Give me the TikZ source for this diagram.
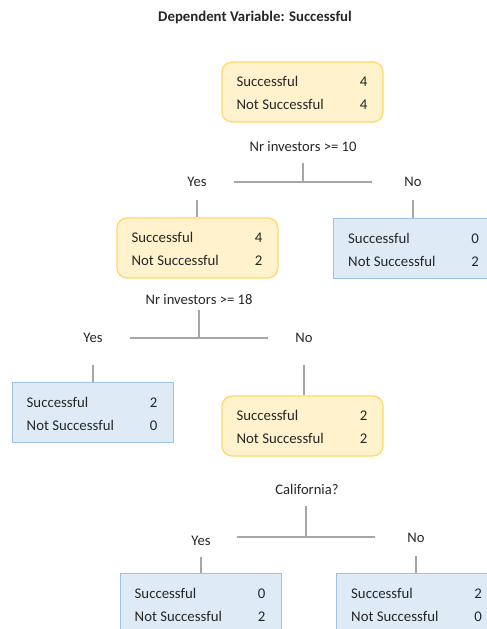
\documentclass[tikz,border=0pt]{standalone}
\usepackage{fontspec}
\setmainfont{Carlito}
\definecolor{yfill}{HTML}{FFF2CC}
\definecolor{ydraw}{HTML}{FFD966}
\definecolor{bfill}{HTML}{DEEBF7}
\definecolor{bdraw}{HTML}{9DC3E6}
\definecolor{lgray}{HTML}{A6A6A6}
\definecolor{tcol}{HTML}{262626}
\tikzset{
  ybox/.style={draw=ydraw,fill=yfill,line width=1.2pt,rounded corners=10pt,minimum width=161pt,minimum height=60pt,inner sep=0pt},
  bbox/.style={draw=bdraw,fill=bfill,line width=1pt,minimum width=161pt,minimum height=60pt,inner sep=0pt},
  txt/.style={font=\fontsize{14.8}{17}\selectfont,text=tcol,inner sep=0pt},
  lbl/.style={font=\fontsize{14.6}{16}\selectfont,text=tcol,inner sep=0pt},
  conn/.style={draw=lgray,line width=1.5pt}
}
\newcommand\statbox[5]{%
  \node[#3] (#1) at (#2) {};
  \node[txt,anchor=base west] (#1s) at ([shift={(15,25.5)}]#1.north west) {Successful};
  \node[txt,anchor=base west] (#1n) at ([shift={(15,48.5)}]#1.north west) {Not Successful};
  \node[txt,anchor=base east] (#1a) at ([shift={(-16,25.5)}]#1.north east) {#4};
  \node[txt,anchor=base east] (#1b) at ([shift={(-16,48.5)}]#1.north east) {#5};
}
\begin{document}
\begin{tikzpicture}[x=1pt,y=-1pt]
\useasboundingbox (0,0) rectangle (487,629);
\node[font=\bfseries\fontsize{14.8}{17}\selectfont,text=tcol] (title) at (255,17) {Dependent Variable: Successful};

% level 1
\statbox{root}{302.5,92}{ybox}{4}{4}
\node[lbl] (c1) at (303,147) {Nr investors >= 10};
\coordinate (b1) at (303,182);
\coordinate (b1l) at (234,182);
\coordinate (b1r) at (372,182);
\draw[conn] ([yshift=-16pt]c1.center) -- (b1);
\draw[conn] (b1l) -- (b1r);
\node[lbl] (y1) at (197,182) {Yes};
\node[lbl] (n1) at (413,182) {No};

\statbox{l1}{197.5,248}{ybox}{4}{2}
\statbox{r1}{414,248}{bbox}{0}{2}
\draw[conn] ([yshift=-18pt]y1.center) -- (y1.center |- l1.north);
\draw[conn] ([yshift=-18pt]n1.center) -- (n1.center |- r1.north);

% level 2
\node[lbl] (c2) at (199,300) {Nr investors >= 18};
\coordinate (b2) at (199,338);
\coordinate (b2l) at (130,338);
\coordinate (b2r) at (268,338);
\draw[conn] ([yshift=-10pt]c2.center) -- (b2);
\draw[conn] (b2l) -- (b2r);
\node[lbl] (y2) at (93,338) {Yes};
\node[lbl] (n2) at (304,338) {No};

\statbox{l2}{92.5,412}{bbox}{2}{0}
\statbox{r2}{302.5,426}{ybox}{2}{2}
\draw[conn] ([yshift=-27pt]y2.center) -- (y2.center |- l2.north);
\draw[conn] ([yshift=-27pt]n2.center) -- (n2.center |- r2.north);

% level 3
\node[lbl] (c3) at (307,489) {California?};
\coordinate (b3) at (306,537);
\coordinate (b3l) at (237,537);
\coordinate (b3r) at (375,537);
\draw[conn] ([xshift=-1pt,yshift=-17pt]c3.center) -- (b3);
\draw[conn] (b3l) -- (b3r);
\node[lbl] (y3) at (201,541) {Yes};
\node[lbl] (n3) at (416,538) {No};

\statbox{l3}{200.5,603}{bbox}{0}{2}
\statbox{r3}{417,603}{bbox}{2}{0}
\draw[conn] ([yshift=-16pt]y3.center) -- (y3.center |- l3.north);
\draw[conn] ([yshift=-18pt]n3.center) -- (n3.center |- r3.north);
\end{tikzpicture}
\end{document}
